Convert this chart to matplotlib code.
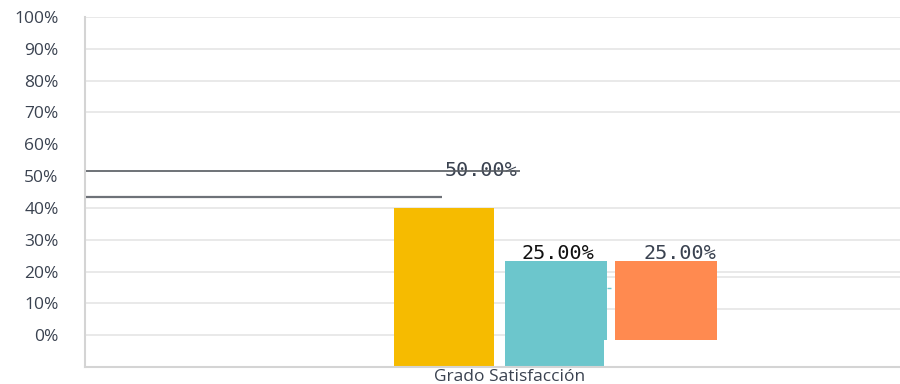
import matplotlib
matplotlib.use("Agg")
import matplotlib.pyplot as plt

# satisfaction shares, one bar per answer
category = "Grado Satisfacción"
values = [50.0, 25.0, 25.0]
bar_colors = ["#F6BB00", "#6CC6CC", "#FF8A50"]
label_colors = ["#3a4250", "#111111", "#3a4250"]
yticks = [0, 10, 20, 30, 40, 50, 60, 70, 80, 90, 100]

text_gray = "#3a4250"
grid_gray = "#e9e9e9"

fig = plt.figure(figsize=(9, 3.84), dpi=100)
ax = fig.add_axes([85 / 900, 1 - 367 / 384, 815 / 900, 350 / 384])
ax.set_xlim(0, 1)
ax.set_ylim(-10, 100)

# horizontal grid (the 50/60 lines are not drawn)
for t in [100, 90, 80, 70, 40, 30, 20]:
    ax.hlines(t, 0, 1, color=grid_gray, lw=1.4, zorder=0)
for t in [10, 0]:
    ax.hlines(t, 0, 0.64, color=grid_gray, lw=1.4, zorder=0)
for t in [18.3, 8.2]:
    ax.hlines(t, 0.64, 1, color=grid_gray, lw=1.4, zorder=0)

# bar geometry
centers = [0.4405, 0.578, 0.7129]
widths = [0.1227, 0.125, 0.125]
bottoms = [-10, -1.57, -1.57]
for c, w, b, v, col in zip(centers, widths, bottoms, values, bar_colors):
    ax.bar(c, v, width=w, bottom=b, color=col, zorder=2)
# lower stub under the second bar
ax.bar(0.5153 + 0.1215 / 2, bottoms[1] + 10, width=0.1215, bottom=-10,
       color=bar_colors[1], zorder=2)
ax.hlines(14.8, 0.6405, 0.6455, color=bar_colors[1], lw=1, zorder=2)

# value labels
label_x = [0.486, 0.580, 0.730]
label_dy = [1.9, 0.8, 0.8]
for x, v, dy, col in zip(label_x, values, label_dy, label_colors):
    ax.text(x, v + dy, "%.2f%%" % v, ha="center", va="center",
            family="DejaVu Sans Mono", fontsize=14.5, color=col, zorder=3)

# leader lines
ax.hlines(51.57, 0.001, 0.534, color="#555a60", lw=1.2, zorder=4)
ax.hlines(43.4, 0.001, 0.438, color="#6e7278", lw=1.6, zorder=4)

ax.set_yticks(yticks)
ax.set_yticklabels(["%d%%" % t for t in yticks])
ax.set_xticks([0.521])
ax.set_xticklabels([category])
ax.tick_params(axis="y", length=0, pad=19, labelsize=12.5, labelcolor=text_gray)
ax.tick_params(axis="x", length=0, pad=1.5, labelsize=12.5, labelcolor=text_gray)
for lab in ax.get_yticklabels() + ax.get_xticklabels():
    lab.set_family("Open Sans")

for side in ["top", "right"]:
    ax.spines[side].set_visible(False)
for side in ["left", "bottom"]:
    ax.spines[side].set_color("#d4d4d4")
    ax.spines[side].set_linewidth(1.5)

fig.savefig("out.png", dpi=100)
